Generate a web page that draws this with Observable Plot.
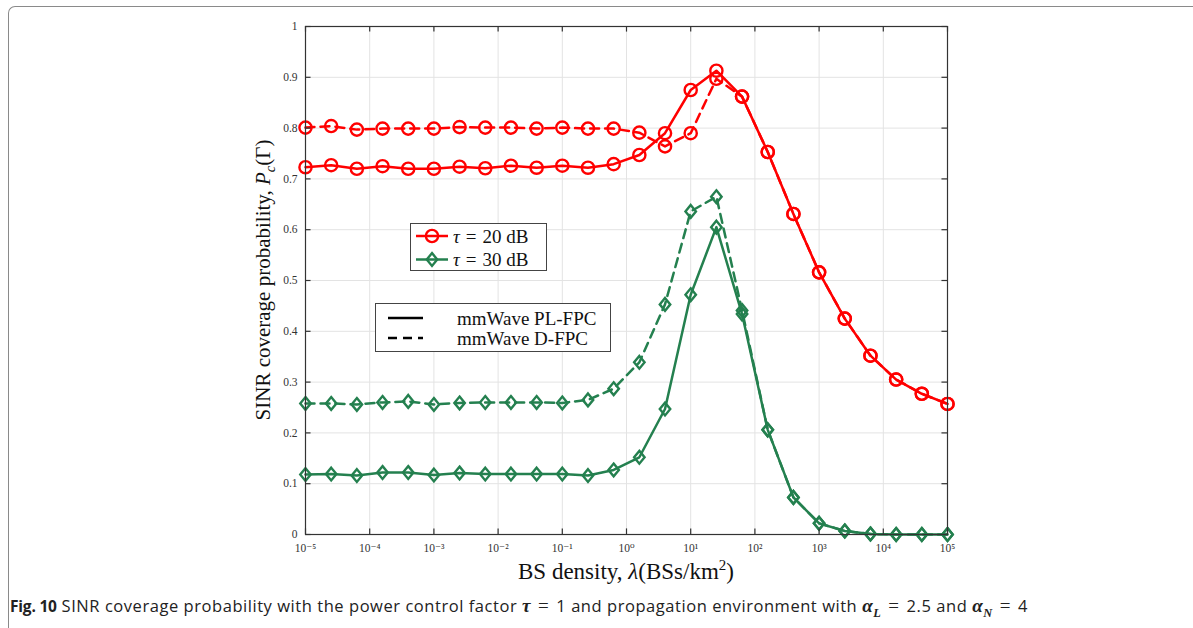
<!DOCTYPE html>
<html>
<head>
<meta charset="utf-8">
<script src="https://cdn.jsdelivr.net/npm/d3@7"></script>
<script src="https://cdn.jsdelivr.net/npm/@observablehq/plot@0.6"></script>
<style>
  html, body { margin: 0; padding: 0; background: #fff; }
  #page { position: relative; width: 1193px; height: 628px; overflow: hidden; background: #fff; }
  #frame { position: absolute; left: 8px; top: 6px; width: 1400px; height: 700px;
           border-top: 1.5px solid #8a8a8a; border-left: 1.5px solid #8a8a8a; border-top-left-radius: 7px; }
  #chart { position: absolute; left: 0; top: 0; }
  .lg { position: absolute; box-sizing: border-box; border: 1px solid #444; background: #fff; }
  .lg svg { position: absolute; left: 0; top: 0; }
  .lgtxt { font-family: "Liberation Serif", "DejaVu Serif", serif; font-size: 19px; fill: #111; }
  #xlabel { position: absolute; left: 0; width: 1252px; top: 557px; text-align: center;
            font-family: "Liberation Serif", "DejaVu Serif", serif; font-size: 23px; color: #111; white-space: nowrap; }
  #ylabel { position: absolute; left: 265px; top: 280px; transform: translate(-50%, -50%) rotate(-90deg);
            font-family: "Liberation Serif", "DejaVu Serif", serif; font-size: 21px; color: #111; white-space: nowrap; }
  #caption { position: absolute; left: 10px; top: 594px; font-family: "Open Sans", "Noto Sans", sans-serif;
             font-size: 16.5px; color: #222; white-space: nowrap; letter-spacing: 0.55px; }
  #caption b { font-size: 15.5px; letter-spacing: -0.2px; }
  #caption .m { font-family: "Liberation Serif", "DejaVu Serif", serif; font-size: 19px; font-weight: bold; font-style: italic; }
  #caption .eq { font-family: "Liberation Serif", "DejaVu Serif", serif; font-size: 19px; margin: 0 7px; }
  sup { font-size: 65%; }
</style>
</head>
<body>
<div id="page">
  <div id="frame"></div>
  <div id="chart"></div>
  <div id="xlabel">BS density, <i>λ</i>(BSs/km<sup>2</sup>)</div>
  <div id="ylabel">SINR coverage probability, <i>P<sub style="font-size:70%">c</sub></i>(Γ)</div>
  <div class="lg" id="lg1" style="left:410px;top:223px;width:137px;height:48px;"></div>
  <div class="lg" id="lg2" style="left:375px;top:303px;width:236px;height:49px;"></div>
  <div id="caption"><b>Fig. 10</b> SINR coverage probability with the power control factor <span class="m">τ</span><span class="eq">=</span>1 and propagation environment with <span class="m">α<sub style="font-size:65%">L</sub></span><span class="eq">=</span>2.5 and <span class="m">α<sub style="font-size:65%">N</sub></span><span class="eq">=</span>4</div>
</div>
<script>
// ---------------- data ----------------
const density = [1e-5, 2.512e-5, 6.31e-5, 1.585e-4, 3.981e-4, 1e-3, 2.512e-3, 6.31e-3, 1.585e-2, 3.981e-2,
                 0.1, 0.2512, 0.631, 1.585, 3.981, 10, 25.12, 63.1, 158.5, 398.1,
                 1000, 2512, 6310, 15850, 39810, 100000];
const plfpc20 = [0.723, 0.727, 0.720, 0.725, 0.720, 0.720, 0.724, 0.721, 0.726, 0.722,
                 0.726, 0.722, 0.729, 0.747, 0.790, 0.875, 0.913, 0.862, 0.753, 0.631,
                 0.516, 0.425, 0.352, 0.305, 0.277, 0.257];
const dfpc20  = [0.801, 0.804, 0.797, 0.799, 0.799, 0.799, 0.802, 0.801, 0.801, 0.799,
                 0.801, 0.799, 0.799, 0.791, 0.764, 0.790, 0.897, 0.862, 0.753, 0.631,
                 0.516, 0.425, 0.352, 0.305, 0.277, 0.257];
const plfpc30 = [0.118, 0.119, 0.116, 0.122, 0.122, 0.117, 0.121, 0.119, 0.119, 0.119,
                 0.119, 0.116, 0.127, 0.152, 0.247, 0.472, 0.605, 0.434, 0.206, 0.073,
                 0.022, 0.007, 0.001, 0.000, 0.000, 0.000];
const dfpc30  = [0.258, 0.258, 0.256, 0.260, 0.262, 0.256, 0.259, 0.260, 0.260, 0.260,
                 0.259, 0.265, 0.287, 0.339, 0.453, 0.636, 0.665, 0.441, 0.206, 0.073,
                 0.022, 0.007, 0.001, 0.000, 0.000, 0.000];
const xTicks = [1e-5, 1e-4, 1e-3, 1e-2, 1e-1, 1, 10, 100, 1000, 1e4, 1e5];
const xTickLabels = ["10⁻⁵", "10⁻⁴", "10⁻³", "10⁻²", "10⁻¹", "10⁰", "10¹", "10²", "10³", "10⁴", "10⁵"];
const yTicks = [0, 0.1, 0.2, 0.3, 0.4, 0.5, 0.6, 0.7, 0.8, 0.9, 1];
const yTickLabels = ["0", "0.1", "0.2", "0.3", "0.4", "0.5", "0.6", "0.7", "0.8", "0.9", "1"];
const seriesSymbols = ["τ", "τ"];
const seriesValues = ["20 dB", "30 dB"];
const methodNames = ["mmWave PL-FPC", "mmWave D-FPC"];

// ---------------- styles ----------------
const RED = "#ff0000";
const GREEN = "#24804f";
const DASH = "9,6";
const LW = 2.5;
const DIAMOND_RATIO = 0.82;

const diamond = {
  draw(ctx, size) {
    const h = Math.sqrt(size / Math.PI);
    const w = h * DIAMOND_RATIO;
    ctx.moveTo(0, -h); ctx.lineTo(w, 0); ctx.lineTo(0, h); ctx.lineTo(-w, 0); ctx.closePath();
  }
};

const rows = arr => density.map((x, i) => ({x, y: arr[i]}));
const r20 = rows(plfpc20), d20 = rows(dfpc20), r30 = rows(plfpc30), d30 = rows(dfpc30);

const chart = Plot.plot({
  width: 1193, height: 590,
  marginLeft: 305, marginRight: 246, marginTop: 26, marginBottom: 56,
  style: {fontFamily: "'Liberation Serif', 'DejaVu Serif', serif", fontSize: "11.5px", color: "#333", background: "transparent", overflow: "visible"},
  x: {type: "log", domain: [1e-5, 1e5], ticks: xTicks, tickFormat: d => xTickLabels[xTicks.indexOf(d)] ?? "", tickSize: 0, tickPadding: 9, label: null},
  y: {domain: [0, 1], ticks: yTicks, tickFormat: d => yTickLabels[yTicks.findIndex(t => Math.abs(t - d) < 1e-9)] ?? "", tickSize: 0, tickPadding: 8, label: null},
  marks: [
    Plot.ruleX(xTicks, {stroke: "#e3e3e3", strokeWidth: 1}),
    Plot.ruleY(yTicks, {stroke: "#e3e3e3", strokeWidth: 1}),
    Plot.line(d30, {x: "x", y: "y", stroke: GREEN, strokeWidth: LW, strokeDasharray: DASH}),
    Plot.dot(d30, {x: "x", y: "y", stroke: GREEN, strokeWidth: 2.4, r: 6.4, symbol: diamond, fill: "none"}),
    Plot.line(r30, {x: "x", y: "y", stroke: GREEN, strokeWidth: LW}),
    Plot.dot(r30, {x: "x", y: "y", stroke: GREEN, strokeWidth: 2.4, r: 6.4, symbol: diamond, fill: "none"}),
    Plot.line(d20, {x: "x", y: "y", stroke: RED, strokeWidth: LW, strokeDasharray: DASH}),
    Plot.dot(d20, {x: "x", y: "y", stroke: RED, strokeWidth: 2.4, r: 6.1, fill: "none"}),
    Plot.line(r20, {x: "x", y: "y", stroke: RED, strokeWidth: LW}),
    Plot.dot(r20, {x: "x", y: "y", stroke: RED, strokeWidth: 2.4, r: 6.1, fill: "none"}),
    Plot.frame({stroke: "#333", strokeWidth: 1.2}),
    Plot.ruleX(xTicks, {y1: 0, y2: 0.011, stroke: "#333", strokeWidth: 1.2}),
    Plot.ruleX(xTicks, {y1: 1, y2: 0.989, stroke: "#333", strokeWidth: 1.2}),
    Plot.ruleY(yTicks, {x1: 1e-5, x2: 1e-5 * 1.22, stroke: "#333", strokeWidth: 1.2}),
    Plot.ruleY(yTicks, {x1: 1e5, x2: 1e5 / 1.22, stroke: "#333", strokeWidth: 1.2})
  ]
});
document.getElementById("chart").appendChild(chart);

// ---------------- legends ----------------
const NS = "http://www.w3.org/2000/svg";
function el(tag, attrs, parent) {
  const e = document.createElementNS(NS, tag);
  for (const k in attrs) e.setAttribute(k, attrs[k]);
  parent.appendChild(e);
  return e;
}
function diamondPath(cx, cy, h) {
  const w = h * DIAMOND_RATIO;
  return `M${cx},${cy - h}L${cx + w},${cy}L${cx},${cy + h}L${cx - w},${cy}Z`;
}
// legend 1 (series)
{
  const svg = el("svg", {width: 137, height: 48}, document.getElementById("lg1"));
  const colors = [RED, GREEN], syms = ["circle", "diamond"];
  seriesValues.forEach((val, i) => {
    const cy = 12 + i * 23.5;
    el("line", {x1: 5, x2: 37, y1: cy, y2: cy, stroke: colors[i], "stroke-width": LW}, svg);
    if (syms[i] === "circle") el("circle", {cx: 21, cy, r: 6.1, fill: "none", stroke: colors[i], "stroke-width": 2.4}, svg);
    else el("path", {d: diamondPath(21, cy, 6.4), fill: "none", stroke: colors[i], "stroke-width": 2.4}, svg);
    const t = el("text", {x: 42, y: cy + 6.5, class: "lgtxt"}, svg);
    el("tspan", {"font-style": "italic"}, t).textContent = seriesSymbols[i];
    el("tspan", {dx: 6}, t).textContent = "=";
    el("tspan", {dx: 6}, t).textContent = val;
  });
}
// legend 2 (methods)
{
  const svg = el("svg", {width: 236, height: 49}, document.getElementById("lg2"));
  methodNames.forEach((name, i) => {
    const cy = 14 + i * 20;
    const attrs = {x1: 12, x2: 47, y1: cy, y2: cy, stroke: "#000", "stroke-width": LW};
    if (i === 1) attrs["stroke-dasharray"] = DASH;
    el("line", attrs, svg);
    el("text", {x: 81, y: cy + 6.5, class: "lgtxt"}, svg).textContent = name;
  });
}
</script>
</body>
</html>
